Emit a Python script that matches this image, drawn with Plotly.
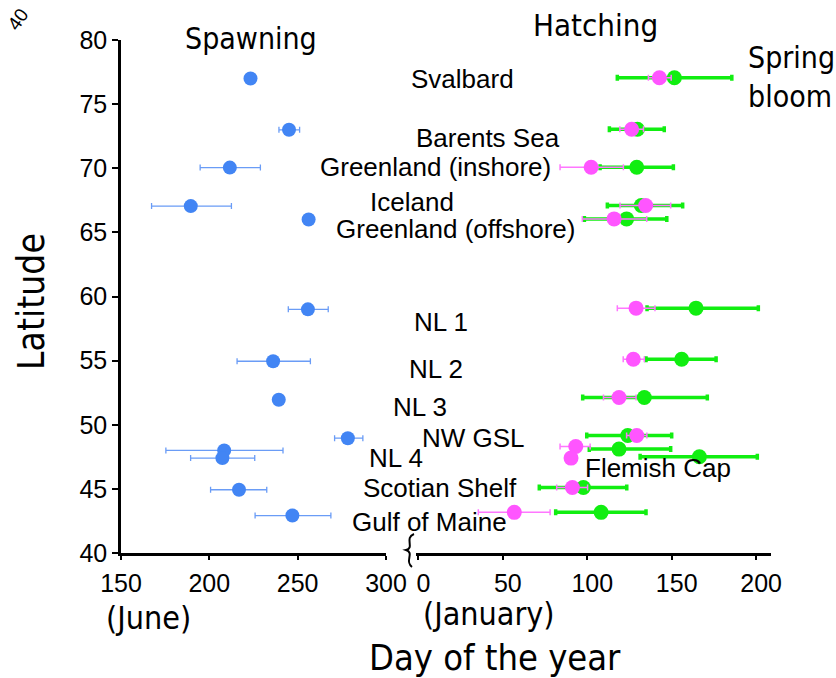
import plotly.graph_objects as go

# ---- data -------------------------------------------------------------
regions = ["Svalbard", "Barents Sea", "Greenland (inshore)", "Iceland",
           "Greenland (offshore)", "NL 1", "NL 2", "NL 3", "NW GSL", "NL 4",
           "Flemish Cap", "Scotian Shelf", "Gulf of Maine"]

# spawning (day of year, previous year)
spawn_day = [223.3, 245.1, 211.6, 189.5, 256.2, 255.8, 236.1, 239.3, 278.4, 208.4, 207.4, 216.8, 247.0]
spawn_lat = [77.0, 73.0, 70.05, 67.05, 66.0, 59.0, 54.95, 51.95, 48.95, 48.0, 47.4, 44.93, 42.92]
spawn_err_lo = [0, 5.7, 16.8, 22.2, 0, 11.1, 20.4, 0, 7.5, 33.0, 18.0, 16.1, 21.1]
spawn_err_hi = [0, 6.0, 17.3, 23.0, 0, 11.5, 21.1, 0, 8.5, 33.3, 18.3, 15.7, 21.8]

# hatching (day of year)
hatch_day = [142.7, 126.3, 102.3, 134.6, 115.9, 128.9, 127.3, 118.8, 129.3, 93.2, 90.4, 91.2, 56.8]
hatch_lat = [77.06, 73.04, 70.08, 67.09, 66.05, 59.09, 55.11, 52.12, 49.16, 48.3, 47.4, 45.11, 43.17]
hatch_err_lo = [6.5, 7.0, 18.4, 15.2, 18.8, 11.1, 6.0, 9.2, 6.0, 9.3, 0, 9.3, 21.3]
hatch_err_hi = [7.0, 7.0, 19.1, 14.8, 19.3, 11.2, 6.5, 10.1, 6.0, 8.5, 0, 9.0, 21.2]

# spring bloom (day of year)
bloom_day = [151.6, 129.7, 129.3, 132.0, 123.3, 164.4, 155.9, 133.8, 124.0, 118.8, 166.4, 97.7, 108.2]
bloom_lat = [77.06, 73.04, 70.08, 67.09, 66.05, 59.09, 55.11, 52.12, 49.16, 48.1, 47.5, 45.11, 43.17]
bloom_err_lo = [33.8, 16.6, 21.7, 20.1, 25.0, 29.0, 21.1, 36.5, 24.3, 17.6, 35.1, 26.1, 26.9]
bloom_err_hi = [34.0, 15.9, 21.7, 24.5, 23.8, 36.9, 20.4, 37.3, 26.0, 30.6, 34.3, 25.7, 26.6]

lat_ticks = [40, 45, 50, 55, 60, 65, 70, 75, 80]
spawn_ticks = [150, 200, 250, 300]
hatch_ticks = [0, 50, 100, 150, 200]

# ---- layout helpers ---------------------------------------------------
W, H = 836, 678


def px(x):
    return x / W


def py(y):
    return 1 - y / H


ARIAL = "Liberation Sans, Arial, sans-serif"
TAHOMA = "DejaVu Sans Condensed, DejaVu Sans, sans-serif"

BLUE = "#4285f4"
BLUE_BAR = "#6a9cf6"
GREEN = "#11ee11"
MAGENTA = "#ff55ff"
MAGENTA_BAR = "#ff77ff"

fig = go.Figure()

fig.add_trace(go.Scatter(
    x=spawn_day, y=spawn_lat, text=regions, mode="markers", name="Spawning",
    xaxis="x", yaxis="y",
    marker=dict(color=BLUE, size=14, line=dict(width=0)),
    error_x=dict(type="data", symmetric=False, array=spawn_err_hi,
                 arrayminus=spawn_err_lo, color=BLUE_BAR, thickness=1.3, width=3),
))

fig.add_trace(go.Scatter(
    x=bloom_day, y=bloom_lat, text=regions, mode="markers", name="Spring bloom",
    xaxis="x2", yaxis="y",
    marker=dict(color=GREEN, size=15, line=dict(width=0)),
    error_x=dict(type="data", symmetric=False, array=bloom_err_hi,
                 arrayminus=bloom_err_lo, color=GREEN, thickness=3.5, width=3),
))

fig.add_trace(go.Scatter(
    x=hatch_day, y=hatch_lat, text=regions, mode="markers", name="Hatching",
    xaxis="x2", yaxis="y",
    marker=dict(color=MAGENTA, size=15, line=dict(width=0)),
    error_x=dict(type="data", symmetric=False, array=hatch_err_hi,
                 arrayminus=hatch_err_lo, color=MAGENTA_BAR, thickness=1.5, width=3),
))

axis_common = dict(
    showline=True, linecolor="black", linewidth=2.5, showgrid=False,
    zeroline=False, ticks="outside", tickcolor="black", tickwidth=2,
    automargin=False,
    tickfont=dict(family=ARIAL, size=25, color="black"),
)

fig.update_layout(
    template="none",
    width=W, height=H, autosize=False,
    margin=dict(l=0, r=0, t=0, b=0, pad=0, autoexpand=False),
    paper_bgcolor="white", plot_bgcolor="white",
    showlegend=False,
    xaxis=dict(domain=[px(121), px(386)], range=[150, 300], tickvals=spawn_ticks,
               anchor="y", ticklen=4, ticklabelstandoff=2, **axis_common),
    xaxis2=dict(domain=[px(416), px(771)], range=[-1.4, 208.8], tickvals=hatch_ticks,
                anchor="y", ticklen=4, ticklabelstandoff=2, ticklabelshift=5,
                **axis_common),
    yaxis=dict(domain=[py(553), py(40)], range=[40, 80], tickvals=lat_ticks,
               anchor="x", ticklen=6, **axis_common),
)

# region labels (centre positions in pixels)
label_pos = {
    "Svalbard": (462, 79),
    "Barents Sea": (488, 138),
    "Greenland (inshore)": (436, 167),
    "Iceland": (412, 202),
    "Greenland (offshore)": (455, 229),
    "NL 1": (441, 322),
    "NL 2": (436, 369),
    "NL 3": (420, 407),
    "NW GSL": (473, 438),
    "NL 4": (396, 458),
    "Flemish Cap": (658, 468),
    "Scotian Shelf": (440, 488),
    "Gulf of Maine": (430, 522),
}
for name in regions:
    x, y = label_pos[name]
    fig.add_annotation(text=name, x=px(x), y=py(y), xref="paper", yref="paper",
                       xanchor="center", yanchor="middle", showarrow=False,
                       font=dict(family=ARIAL, size=26, color="black"))

titles = [
    ("Spawning", 251, 39, 30, "center"),
    ("Hatching", 595, 25, 31, "center"),
    ("Spring", 746, 58, 30, "left"),
    ("bloom", 746, 96, 30, "left"),
    ("(June)", 148, 618, 32, "center"),
    ("(January)", 489, 614, 32, "center"),
    ("Day of the year", 495, 657, 36, "center"),
]
for text, x, y, size, anchor in titles:
    fig.add_annotation(text=text, x=px(x), y=py(y), xref="paper", yref="paper",
                       xanchor=anchor, yanchor="middle", showarrow=False,
                       font=dict(family=TAHOMA, size=size, color="black"))

fig.add_annotation(text="Latitude", x=px(32), y=py(302), xref="paper", yref="paper",
                   xanchor="center", yanchor="middle", showarrow=False, textangle=-90,
                   font=dict(family=TAHOMA, size=37, color="black"))

# small rotated corner label
fig.add_annotation(text="40", x=px(18), y=py(20), xref="paper", yref="paper",
                   xanchor="center", yanchor="middle", showarrow=False, textangle=-55,
                   font=dict(family=ARIAL, size=19, color="black"))

# axis-break squiggle between the two day axes
pts = [(414, 534), (404, 538), (415, 548), (406, 550), (415, 553), (404, 561), (412, 567)]
path = "M {} {} C {} {} {} {} {} {} C {} {} {} {} {} {}".format(
    *[v for p in pts for v in (px(p[0]), py(p[1]))])
fig.add_shape(type="path", path=path, xref="paper", yref="paper",
              line=dict(color="black", width=2))

fig.write_html("out.html")
